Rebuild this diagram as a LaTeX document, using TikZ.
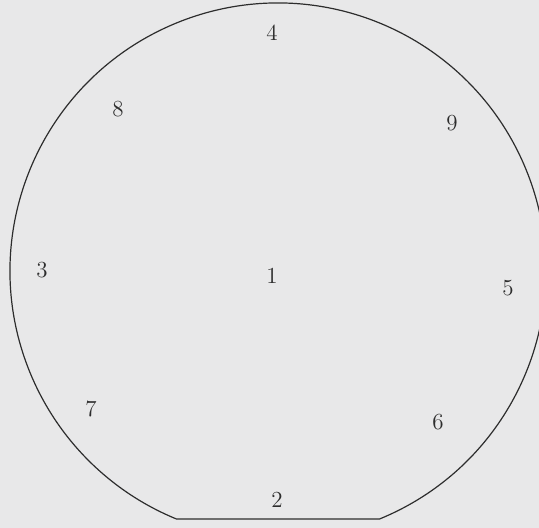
\documentclass[tikz,border=0pt]{standalone}
\usepackage{tikz}
\definecolor{paper}{RGB}{232,232,233}
\definecolor{ink}{RGB}{45,45,45}
\begin{document}
\begin{tikzpicture}[x=0.5pt, y=0.5pt,
        num/.style={inner sep=0pt, text=ink, font=\fontsize{11.5}{12}\selectfont},
        outline/.style={draw=ink, line width=0.6pt}]

        % Tlo
        \fill[paper] (0,0) rectangle (539,528);
        \useasboundingbox (0,0) rectangle (539,528);
        \clip (0,0) rectangle (539,528);

        % Obrys plytki (scieta u dolu)
        \coordinate (c) at (278,257);
        \draw[outline] ([shift={(-67.7:268)}]c) arc[start angle=-67.7, end angle=247.7, radius=268] -- cycle;

        % Numery punktow
        \node[num] (p1) at (272,252) {1};
        \node[num] (p2) at (277,28)  {2};
        \node[num] (p3) at (42,258)  {3};
        \node[num] (p4) at (272,495) {4};
        \node[num] (p5) at (508,240) {5};
        \node[num] (p6) at (438,106) {6};
        \node[num] (p7) at (91,119)  {7};
        \node[num] (p8) at (118,419) {8};
        \node[num] (p9) at (452,405) {9};

    \end{tikzpicture}
\end{document}
